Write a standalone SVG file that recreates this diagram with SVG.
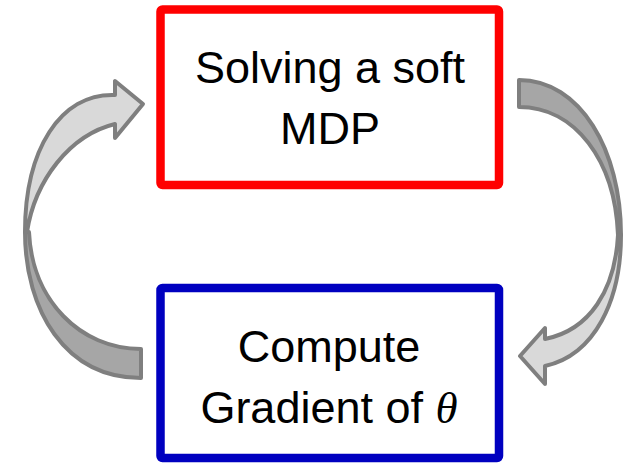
<svg xmlns="http://www.w3.org/2000/svg" width="628" height="465" viewBox="0 0 628 465">
  <style>
    .box { fill: #ffffff; stroke-width: 8.5; stroke-linejoin: round; }
    .label { font-family: "Liberation Sans", Arial, sans-serif; font-size: 45px; fill: #000000; text-anchor: middle; }
    .theta { font-family: "Liberation Serif", "Times New Roman", serif; font-style: italic; }
    .band { stroke: #7f7f7f; stroke-width: 4; stroke-linejoin: round; }
    .back { fill: #a6a6a6; }
    .front { fill: #d9d9d9; }
  </style>

  <rect width="628" height="465" fill="#ffffff"/>

  <!-- curved cycle arrows -->
  <g id="connectors">
    <!-- left arrow: from the gradient box up to the MDP box -->
    <g id="arrow-up">
      <path class="band back" d="M141,378 C65,378 25,310 25,232 L29,232 C32,300 80,349 141,349 Z"/>
      <path class="band front" d="M115,95 C60,93 25,150 25,232 L27,232 C35,180 70,135 115,124 L115,138 L143,104 L115,81 Z"/>
    </g>
    <!-- right arrow: from the MDP box down to the gradient box -->
    <g id="arrow-down">
      <path class="band back" d="M519,80 C580,80 621,150 621,235 L618,235 C615,160 575,107 519,107 Z"/>
      <path class="band front" d="M621,235 C621,300 595,355 545,366 L545,384 L520,356 L545,328 L545,339 C590,330 615,290 618,235 Z"/>
    </g>
  </g>

  <g id="node-mdp">
    <rect class="box" x="160.5" y="9.5" width="338.5" height="175.5" rx="2" stroke="#ff0000"/>
    <text class="label" x="330" y="83">Solving a soft</text>
    <text class="label" x="330" y="144">MDP</text>
  </g>

  <g id="node-gradient">
    <rect class="box" x="160.5" y="288" width="338.5" height="170" rx="2" stroke="#0000c0"/>
    <text class="label" x="329" y="362">Compute</text>
    <text class="label" x="329" y="423">Gradient of <tspan class="theta">θ</tspan></text>
  </g>
</svg>
